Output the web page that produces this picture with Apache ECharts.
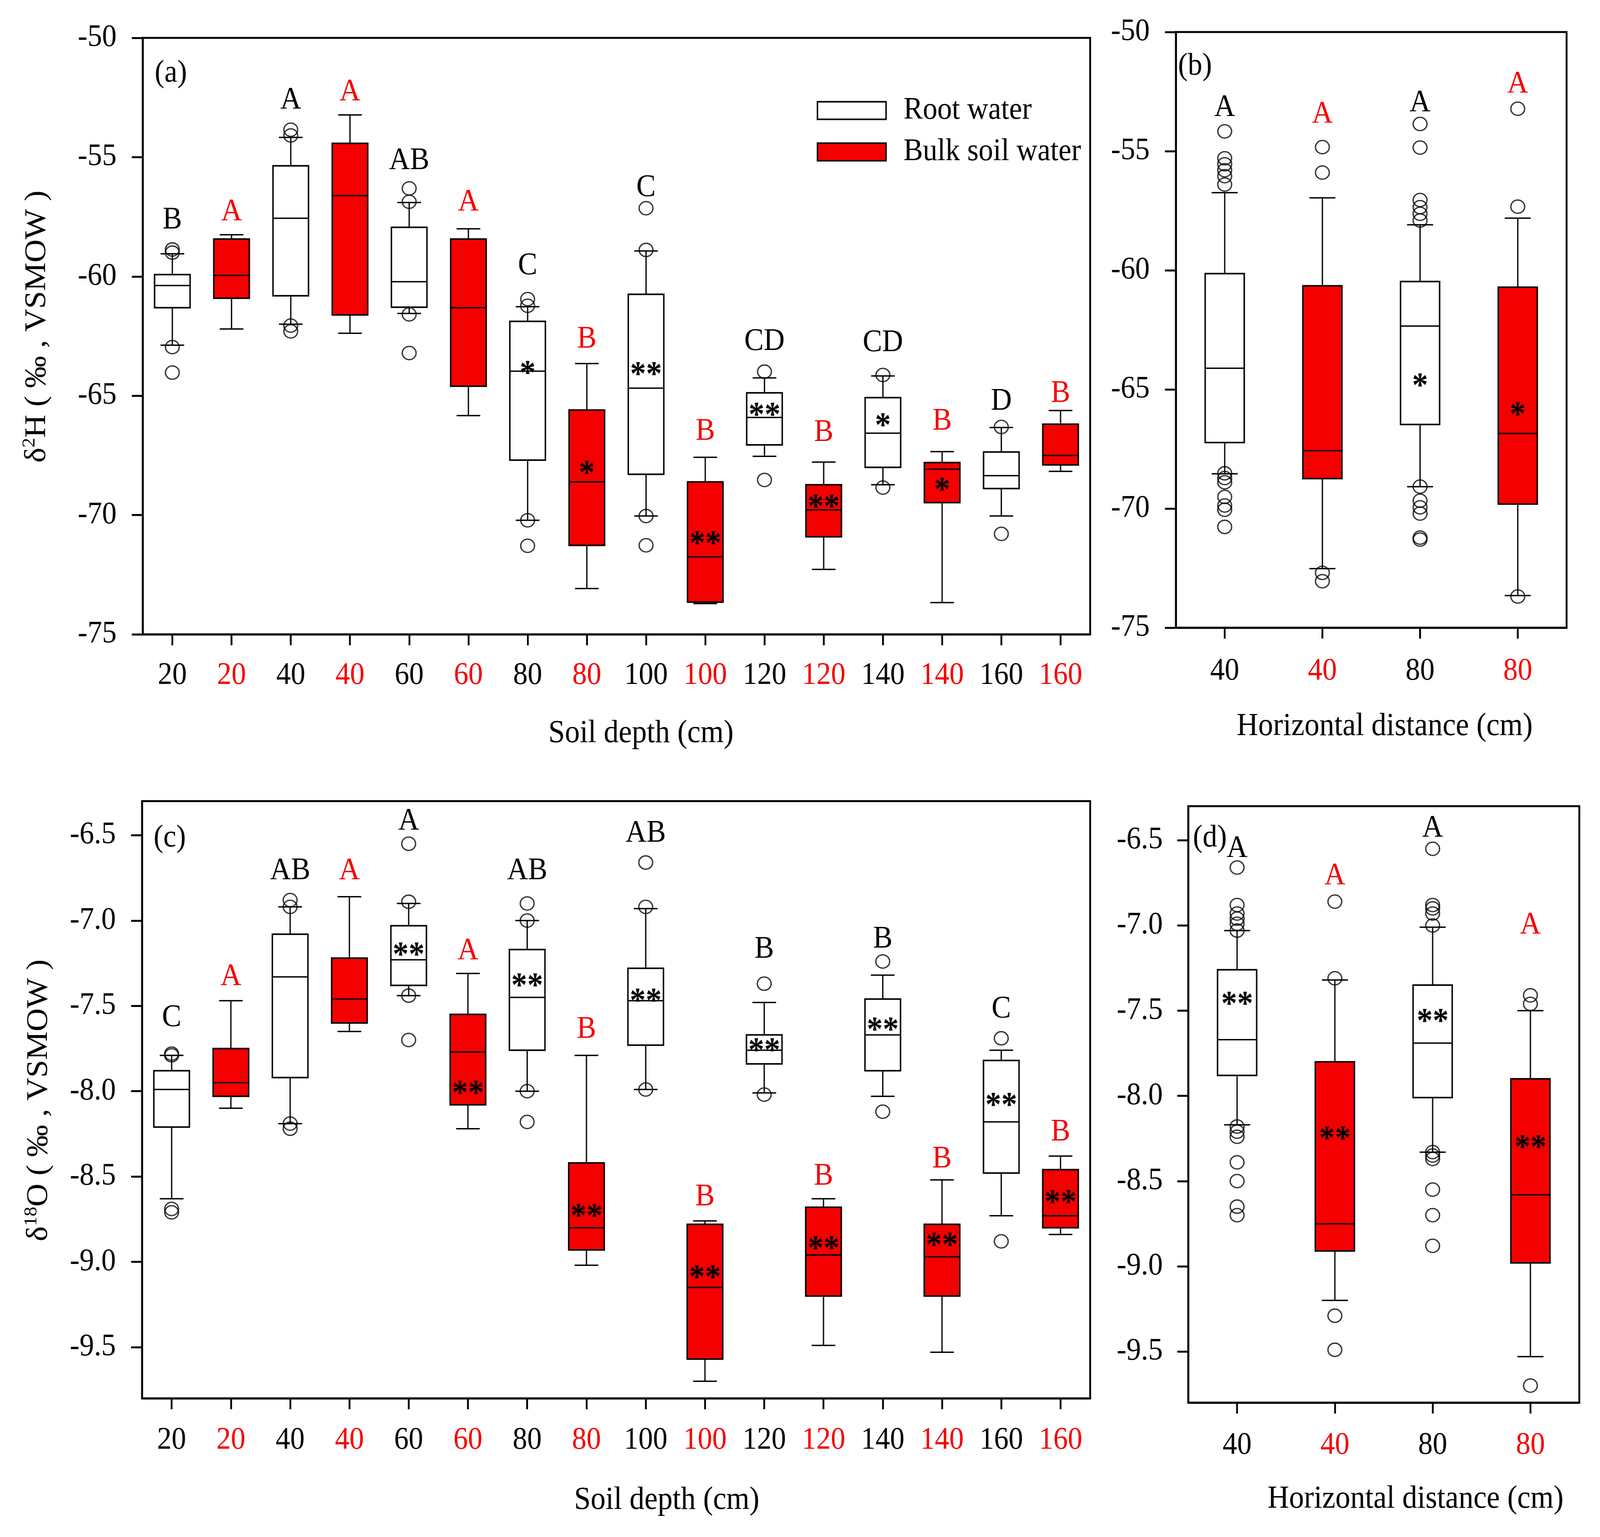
<!DOCTYPE html>
<html><head><meta charset="utf-8">
<script src="https://cdn.jsdelivr.net/npm/echarts@6/dist/echarts.min.js"></script>
<style>html,body{margin:0;padding:0;background:#fff;overflow:hidden}#chart{width:4406px;height:3935px;transform-origin:0 0}</style>
</head><body><div id="chart"></div>
<script>
// ---------- categories / tick labels ----------
const depthLabels = ['20','20','40','40','60','60','80','80','100','100','120','120','140','140','160','160'];
const depthGroups = ['root','bulk','root','bulk','root','bulk','root','bulk','root','bulk','root','bulk','root','bulk','root','bulk'];
const distLabels = ['40','40','80','80'];
const distGroups = ['root','bulk','root','bulk'];
const dHTicks = [-75,-70,-65,-60,-55,-50];
const dOTicks = [-9.5,-9.0,-8.5,-8.0,-7.5,-7.0,-6.5];

// ---------- panel (a): δ2H by soil depth  [lower whisker, Q1, median, Q3, upper whisker] ----------
const aBoxes = [
  [-62.88,-61.31,-60.38,-59.92,-59.05],
  [-62.20,-60.91,-59.96,-58.43,-58.25],
  [-62.00,-60.81,-57.56,-55.36,-54.17],
  [-62.38,-61.61,-56.61,-54.42,-53.23],
  [-61.55,-61.29,-60.22,-57.94,-56.90],
  [-65.83,-64.60,-61.31,-58.43,-58.00],
  [-70.22,-67.70,-63.97,-61.88,-61.27],
  [-73.08,-71.27,-68.61,-65.60,-63.65],
  [-70.04,-68.29,-64.68,-60.75,-58.93],
  [-73.71,-73.65,-71.75,-68.61,-67.58],
  [-67.54,-67.06,-65.91,-64.88,-64.25],
  [-72.28,-70.91,-69.78,-68.73,-67.78],
  [-68.73,-68.00,-66.57,-65.08,-64.17],
  [-73.67,-69.48,-68.08,-67.80,-67.34],
  [-70.04,-68.89,-68.35,-67.36,-66.33],
  [-68.17,-67.90,-67.50,-66.19,-65.62]
];
const aOutliers = [
  [-58.87,-59.0,-62.96,-64.03],[],[-53.85,-54.09,-62.06,-62.3],[],
  [-56.31,-56.87,-61.59,-63.21],[],[-60.95,-61.23,-70.22,-71.29],[],
  [-57.14,-58.89,-70.04,-71.27],[],[-63.99,-68.53],[],
  [-64.13,-68.85],[],[-66.31,-70.79],[]
];
const aLetters = ['B','A','A','A','AB','A','C','B','C','B','CD','B','CD','B','D','B'];
const aLetterY = [-57.64,-57.30,-52.62,-52.28,-55.16,-56.9,-59.56,-62.64,-56.29,-66.51,-62.74,-66.55,-62.78,-66.07,-65.24,-64.92];
const aStars = ['','','','','','','*','*','**','**','**','**','*','*','',''];
const aStarY = [null,null,null,null,null,null,-63.9,-68.1,-63.95,-71.05,-65.65,-69.5,-66.1,-68.8,null,null];

// ---------- panel (b): δ2H by horizontal distance ----------
const bBoxes = [
  [-68.54,-67.23,-64.11,-60.14,-56.74],
  [-72.52,-68.74,-67.57,-60.65,-56.96],
  [-69.08,-66.47,-62.34,-60.47,-58.09],
  [-73.65,-69.81,-66.85,-60.71,-57.81]
];
const bOutliers = [
  [-54.17,-55.3,-55.55,-55.8,-56.05,-56.4,-68.52,-68.72,-68.9,-69.51,-69.87,-70.05,-70.77],
  [-54.83,-55.9,-72.7,-73.05],
  [-53.86,-54.85,-57.05,-57.35,-57.63,-57.91,-69.08,-69.67,-69.95,-70.21,-71.22,-71.3],
  [-53.22,-57.33,-73.69]
];
const bLetters = ['A','A','A','A'];
const bLetterY = [-53.18,-53.46,-52.98,-52.19];
const bStars = ['','','*','*'];
const bStarY = [null,null,-64.7,-65.9];

// ---------- panel (c): δ18O by soil depth ----------
const cBoxes = [
  [-8.63,-8.21,-7.99,-7.88,-7.79],
  [-8.10,-8.03,-7.95,-7.75,-7.47],
  [-8.19,-7.92,-7.33,-7.08,-6.92],
  [-7.65,-7.60,-7.46,-7.22,-6.86],
  [-7.44,-7.38,-7.23,-7.03,-6.90],
  [-8.22,-8.08,-7.77,-7.55,-7.31],
  [-8.00,-7.76,-7.45,-7.17,-7.00],
  [-9.02,-8.93,-8.80,-8.42,-7.79],
  [-7.99,-7.73,-7.47,-7.28,-6.93],
  [-9.70,-9.57,-9.15,-8.78,-8.76],
  [-8.01,-7.84,-7.76,-7.67,-7.48],
  [-9.49,-9.20,-8.96,-8.68,-8.63],
  [-8.03,-7.88,-7.67,-7.46,-7.32],
  [-9.53,-9.20,-8.97,-8.78,-8.52],
  [-8.73,-8.48,-8.18,-7.82,-7.76],
  [-8.84,-8.80,-8.73,-8.46,-8.38]
];
const cOutliers = [
  [-7.78,-7.79,-8.69,-8.71],[],[-6.88,-6.92,-8.19,-8.22],[],
  [-6.55,-6.89,-7.44,-7.70],[],[-6.90,-7.0,-8.0,-8.18],[],
  [-6.66,-6.92,-7.99],[],[-7.37,-8.02],[],
  [-7.24,-8.12],[],[-7.69,-8.88],[]
];
const cLetters = ['C','A','AB','A','A','A','AB','B','AB','B','B','B','B','B','C','B'];
const cLetterY = [-7.57,-7.33,-6.71,-6.71,-6.42,-7.18,-6.71,-7.64,-6.49,-8.62,-7.17,-8.50,-7.11,-8.40,-7.52,-8.24];
const cStars = ['','','','','**','**','**','**','**','**','**','**','**','**','**','**'];
const cStarY = [null,null,null,null,-7.18,-7.99,-7.36,-8.71,-7.45,-9.07,-7.74,-8.90,-7.62,-8.88,-8.06,-8.63];

// ---------- panel (d): δ18O by horizontal distance ----------
const dBoxes = [
  [-8.17,-7.88,-7.67,-7.26,-7.03],
  [-9.20,-8.91,-8.75,-7.80,-7.32],
  [-8.33,-8.01,-7.69,-7.35,-7.01],
  [-9.53,-8.98,-8.58,-7.90,-7.50]
];
const dOutliers = [
  [-6.66,-6.88,-6.93,-6.96,-6.99,-7.03,-8.18,-8.21,-8.24,-8.39,-8.50,-8.65,-8.70],
  [-6.86,-7.31,-9.29,-9.49],
  [-6.55,-6.88,-6.90,-6.93,-7.0,-8.33,-8.35,-8.37,-8.55,-8.70,-8.88],
  [-7.41,-7.46,-9.70]
];
const dLetters = ['A','A','A','A'];
const dLetterY = [-6.55,-6.71,-6.43,-7.0];
const dStars = ['**','**','**','**'];
const dStarY = [-7.44,-8.23,-7.54,-8.28];

// ---------- styling ----------
const RED = '#F50000';
const SERIF = 'Liberation Serif';
const LW = 3.5;
const DESIGN_W = 4406, DESIGN_H = 3935;

// fit the 4406x3935 design into whatever viewport the browser gives
const el = document.getElementById('chart');
const sx = (window.innerWidth || DESIGN_W) / DESIGN_W;
const sy = (window.innerHeight || DESIGN_H) / DESIGN_H;
if (Math.abs(sx - 1) > 1e-3 || Math.abs(sy - 1) > 1e-3) {
  el.style.transform = 'scale(' + sx + ',' + sy + ')';
}

const chart = echarts.init(el, null, {renderer:'canvas'});

const grids = [
  {left:393, top:97, width:2609, height:1527},
  {left:3238, top:82, width:1076, height:1525},
  {left:391, top:2051, width:2611, height:1529},
  {left:3272, top:2064, width:1077, height:1527}
].map(g => Object.assign({show:true, borderColor:'#000', borderWidth:5, backgroundColor:'transparent'}, g));

function xAx(gi, labels, groups, margin) {
  return {type:'category', gridIndex:gi, data:labels, boundaryGap:true,
    axisLine:{show:true, lineStyle:{color:'#000', width:5}},
    axisTick:{show:true, alignWithLabel:true, length:28, lineStyle:{color:'#000', width:5}},
    axisLabel:{interval:0, margin:margin, fontSize:80, fontFamily:SERIF,
      color:(v, i) => groups[i] === 'bulk' ? RED : '#000'},
    splitLine:{show:false}};
}
function yAx(gi, min, max, ticks, dec, margin) {
  return {type:'value', gridIndex:gi, min:min, max:max,
    axisLine:{show:true, lineStyle:{color:'#000', width:5}},
    axisTick:{show:true, length:30, lineStyle:{color:'#000', width:5}, customValues:ticks},
    axisLabel:{margin:margin, fontSize:80, fontFamily:SERIF, color:'#000', customValues:ticks,
      formatter:v => Number(v).toFixed(dec)},
    splitLine:{show:false}};
}

function boxSeries(name, gi, boxes, groups, want, frac) {
  const data = [];
  boxes.forEach((b, i) => { if (groups[i] === want) data.push([i].concat(b)); });
  const fill = want === 'bulk' ? RED : '#fff';
  return {type:'custom', name:name, xAxisIndex:gi, yAxisIndex:gi, data:data,
    encode:{x:0, y:[1,2,3,4,5]}, z:2, silent:true,
    itemStyle:{color:fill, borderColor:'#000', borderWidth:4},
    renderItem:(params, api) => {
      const x = api.value(0);
      const lo = api.coord([x, api.value(1)]);
      const q1 = api.coord([x, api.value(2)]);
      const md = api.coord([x, api.value(3)]);
      const q3 = api.coord([x, api.value(4)]);
      const hi = api.coord([x, api.value(5)]);
      const band = api.size([1, 0])[0];
      const w = band * frac, cw = w * 2 / 3, cx = lo[0];
      const ls = {stroke:'#000', lineWidth:LW};
      return {type:'group', children:[
        {type:'line', shape:{x1:cx, y1:hi[1], x2:cx, y2:q3[1]}, style:ls},
        {type:'line', shape:{x1:cx, y1:q1[1], x2:cx, y2:lo[1]}, style:ls},
        {type:'line', shape:{x1:cx - cw/2, y1:hi[1], x2:cx + cw/2, y2:hi[1]}, style:ls},
        {type:'line', shape:{x1:cx - cw/2, y1:lo[1], x2:cx + cw/2, y2:lo[1]}, style:ls},
        {type:'rect', shape:{x:cx - w/2, y:q3[1], width:w, height:q1[1] - q3[1]},
          style:{fill:fill, stroke:'#000', lineWidth:LW + 0.5}},
        {type:'line', shape:{x1:cx - w/2, y1:md[1], x2:cx + w/2, y2:md[1]}, style:{stroke:'#000', lineWidth:3.5}}
      ]};
    }};
}
function outlierSeries(gi, outliers) {
  const data = [];
  outliers.forEach((arr, i) => arr.forEach(v => data.push([i, v])));
  return {type:'scatter', xAxisIndex:gi, yAxisIndex:gi, data:data, symbol:'circle',
    symbolSize:[38, 34], z:3, silent:true,
    itemStyle:{color:'rgba(0,0,0,0)', borderColor:'#000', borderWidth:3.5}};
}
function textSeries(gi, texts, ys, groups, font, dy, colored) {
  const data = [], lab = [];
  texts.forEach((t, i) => {
    if (t && ys[i] != null) {
      data.push([i, ys[i]]);
      lab.push({t:t, c:(colored && groups[i] === 'bulk') ? RED : '#000'});
    }
  });
  return {type:'custom', xAxisIndex:gi, yAxisIndex:gi, data:data, encode:{x:0, y:1}, z:5, silent:true,
    renderItem:(params, api) => {
      const p = api.coord([api.value(0), api.value(1)]);
      const L = lab[params.dataIndex];
      return {type:'text', x:p[0], y:p[1] + dy,
        style:{text:L.t, fill:L.c, font:font, align:'center', verticalAlign:'middle',
          textAlign:'center', textVerticalAlign:'middle'}};
    }};
}

const LETTER_FONT = '80px "Liberation Serif"';
const STAR_FONT = 'bold 88px "Liberation Serif"';

const series = [
  boxSeries('Root water', 0, aBoxes, depthGroups, 'root', 0.6),
  boxSeries('Bulk soil water', 0, aBoxes, depthGroups, 'bulk', 0.6),
  outlierSeries(0, aOutliers),
  textSeries(0, aLetters, aLetterY, depthGroups, LETTER_FONT, 0, true),
  textSeries(0, aStars, aStarY, depthGroups, STAR_FONT, 13, false),

  boxSeries('b root', 1, bBoxes, distGroups, 'root', 0.4),
  boxSeries('b bulk', 1, bBoxes, distGroups, 'bulk', 0.4),
  outlierSeries(1, bOutliers),
  textSeries(1, bLetters, bLetterY, distGroups, LETTER_FONT, 0, true),
  textSeries(1, bStars, bStarY, distGroups, STAR_FONT, 13, false),

  boxSeries('c root', 2, cBoxes, depthGroups, 'root', 0.6),
  boxSeries('c bulk', 2, cBoxes, depthGroups, 'bulk', 0.6),
  outlierSeries(2, cOutliers),
  textSeries(2, cLetters, cLetterY, depthGroups, LETTER_FONT, 0, true),
  textSeries(2, cStars, cStarY, depthGroups, STAR_FONT, 13, false),

  boxSeries('d root', 3, dBoxes, distGroups, 'root', 0.4),
  boxSeries('d bulk', 3, dBoxes, distGroups, 'bulk', 0.4),
  outlierSeries(3, dOutliers),
  textSeries(3, dLetters, dLetterY, distGroups, LETTER_FONT, 0, true),
  textSeries(3, dStars, dStarY, distGroups, STAR_FONT, 13, false)
];

function plainText(x, y, text, size, align) {
  return {type:'text', x:x, y:y, silent:true,
    style:{text:text, font:size + 'px "Liberation Serif"', fill:'#000',
      align:align || 'center', verticalAlign:'middle', textAlign:align || 'center', textVerticalAlign:'middle'}};
}
function yTitle(x, y, sup, rest) {
  return {type:'text', x:x, y:y, rotation:Math.PI / 2, silent:true,
    style:{text:'{d|δ}{s|' + sup + '}{d|' + rest + '}', align:'center', verticalAlign:'middle',
      textAlign:'center', textVerticalAlign:'middle', fill:'#000',
      rich:{d:{fontSize:82, fontFamily:SERIF, lineHeight:90, fill:'#000', color:'#000'},
            s:{fontSize:50, fontFamily:SERIF, lineHeight:50, verticalAlign:'top', fill:'#000', color:'#000'}}}};
}

const option = {
  animation:false,
  backgroundColor:'#fff',
  grid:grids,
  xAxis:[xAx(0, depthLabels, depthGroups, 66), xAx(1, distLabels, distGroups, 72),
         xAx(2, depthLabels, depthGroups, 68), xAx(3, distLabels, distGroups, 70)],
  yAxis:[yAx(0, -75, -50, dHTicks, 0, 72), yAx(1, -75, -50, dHTicks, 0, 72),
         yAx(2, -9.8, -6.3, dOTicks, 1, 72), yAx(3, -9.8, -6.3, dOTicks, 1, 70)],
  legend:{left:2249, top:243, orient:'vertical', padding:0, itemWidth:189, itemHeight:45, itemGap:26,
    icon:'rect', selectedMode:false,
    itemStyle:{borderColor:'#000', borderWidth:4},
    textStyle:{fontSize:80, fontFamily:SERIF, color:'#000', lineHeight:80, padding:[0,0,0,43]},
    data:[{name:'Root water', itemStyle:{color:'#fff', borderColor:'#000', borderWidth:4}},
          {name:'Bulk soil water', itemStyle:{color:RED, borderColor:'#000', borderWidth:4}}]},
  graphic:[
    plainText(426, 188, '(a)', 80, 'left'),
    plainText(3244, 170, '(b)', 80, 'left'),
    plainText(423, 2146, '(c)', 80, 'left'),
    plainText(3285, 2146, '(d)', 80, 'left'),
    plainText(1765, 1878, 'Soil depth (cm)', 82),
    plainText(3813, 1860, 'Horizontal distance (cm)', 82),
    plainText(1836, 3841, 'Soil depth (cm)', 82),
    plainText(3898, 3838, 'Horizontal distance (cm)', 82),
    yTitle(102, 836, '2', 'H ( ‰ , VSMOW )'),
    yTitle(107, 2817, '18', 'O ( ‰ , VSMOW )')
  ],
  series:series
};
chart.setOption(option);
</script>
</body></html>
